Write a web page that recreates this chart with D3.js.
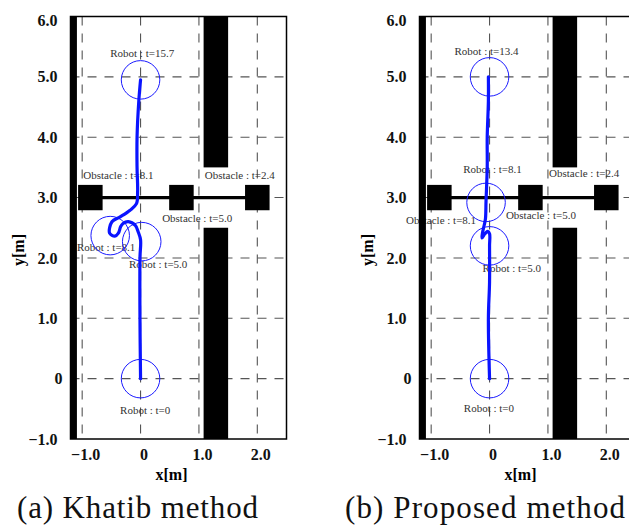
<!DOCTYPE html>
<html>
<head>
  <meta charset="UTF-8">
  <title>Khatib vs proposed method</title>
  <script src="https://d3js.org/d3.v7.min.js"></script>
  <style>
    body { margin: 0; background: #fff; }
    svg { display: block; }
  </style>
</head>
<body>
<svg width="629" height="530"></svg>
<script>

// axis ticks
const xTicks = [-1, 0, 1, 2];
const yTicks = [-1, 0, 1, 2, 3, 4, 5, 6];
const gridX = [-1, 0, 1, 2];
const gridY = [0, 1, 2, 3, 4, 5];

// environment: walls as [x0, x1, y0, y1], obstacles centres on the y=3 rail
const walls = [[-1.2, -1.09, -1, 6], [1.08, 1.5, 3.5, 6], [1.08, 1.5, -1, 2.5]];
const obstacleX = [-0.86, 0.7, 2.0];
const obstacleY = 3.0;
const obstacleSize = 0.42;
const robotRadius = 0.33;

// (a) Khatib method
const khatibPath = [
  [0, 0], [-0.01, 1.0], [-0.01, 2.0], [0, 2.3], [-0.04, 2.43], [-0.09, 2.54],
  [-0.21, 2.6], [-0.3, 2.57], [-0.34, 2.52], [-0.38, 2.41], [-0.44, 2.36],
  [-0.53, 2.41], [-0.49, 2.6], [-0.35, 2.68], [-0.18, 2.79], [-0.07, 2.9],
  [-0.05, 3.1], [-0.06, 3.5], [-0.06, 4.0], [-0.03, 4.6], [0, 4.95]
];
const khatibRobots = [[0, 0], [0.02, 2.27], [-0.52, 2.37], [0, 4.95]];
const khatibNotes = [
  ["Robot : t=15.7", -0.52, 5.33],
  ["Obstacle : t=8.1", -0.98, 3.31],
  ["Obstacle : t=2.4", 1.1, 3.31],
  ["Obstacle : t=5.0", 0.37, 2.59],
  ["Robot : t=8.1", -1.09, 2.11],
  ["Robot : t=5.0", -0.2, 1.83],
  ["Robot : t=0", -0.35, -0.59]
];

// (b) Proposed method
const proposedPath = [
  [0, 0], [-0.02, 1.0], [0, 1.6], [0, 2.2], [0, 2.4], [-0.03, 2.44],
  [-0.08, 2.4], [-0.13, 2.33], [-0.12, 2.42], [-0.09, 2.55], [-0.07, 2.65],
  [-0.06, 2.95], [-0.04, 3.5], [-0.04, 4.0], [-0.02, 4.6], [-0.02, 5.0]
];
const proposedRobots = [[0, 0], [0, 2.2], [-0.06, 2.92], [0, 5.0]];
const proposedNotes = [
  ["Robot : t=13.4", -0.6, 5.37],
  ["Robot : t=8.1", -0.45, 3.4],
  ["Obstacle : t=2.4", 1.02, 3.34],
  ["Obstacle : t=8.1", -1.43, 2.57],
  ["Obstacle : t=5.0", 0.28, 2.64],
  ["Robot : t=5.0", -0.12, 1.76],
  ["Robot : t=0", -0.44, -0.55]
];

const captions = ["(a) Khatib method", "(b) Proposed method"];

const svg = d3.select("svg");
const plotW = 216, plotTop = 16.5, plotBottom = 439;
const serif = "'Liberation Serif', 'Times New Roman', serif";
const fmt = v => v === 0 ? "0" : d3.format(".1f")(v);

function panel(left, path, robots, notes, caption, capX, capW) {
  const x = d3.scaleLinear().domain([-1.2, 2.5]).range([left, left + plotW]);
  const y = d3.scaleLinear().domain([-1, 6]).range([plotBottom, plotTop]);
  const g = svg.append("g");

  // dashed grid
  g.selectAll(".gx").data(gridX).enter().append("line")
    .attr("x1", d => x(d)).attr("x2", d => x(d))
    .attr("y1", y(6)).attr("y2", y(-1))
    .attr("stroke", "#555").attr("stroke-width", 1.1).attr("stroke-dasharray", "9,8");
  g.selectAll(".gy").data(gridY).enter().append("line")
    .attr("x1", x(-1.2)).attr("x2", x(2.5))
    .attr("y1", d => y(d)).attr("y2", d => y(d))
    .attr("stroke", "#555").attr("stroke-width", 1.1).attr("stroke-dasharray", "9,8");

  // annotations
  g.selectAll(".note").data(notes).enter().append("text")
    .attr("x", d => x(d[1])).attr("y", d => y(d[2]))
    .attr("font-family", serif).attr("font-size", "11px").attr("fill", "#333")
    .text(d => d[0]);

  // walls
  g.selectAll(".wall").data(walls).enter().append("rect")
    .attr("x", d => x(d[0])).attr("width", d => x(d[1]) - x(d[0]))
    .attr("y", d => y(d[3])).attr("height", d => y(d[2]) - y(d[3]))
    .attr("fill", "#000");

  // rail + moving obstacles
  g.append("line")
    .attr("x1", x(obstacleX[0])).attr("x2", x(obstacleX[2]))
    .attr("y1", y(obstacleY)).attr("y2", y(obstacleY))
    .attr("stroke", "#000").attr("stroke-width", 3.2);
  g.selectAll(".obs").data(obstacleX).enter().append("rect")
    .attr("x", d => x(d - obstacleSize / 2))
    .attr("width", x(obstacleSize) - x(0))
    .attr("y", y(obstacleY + obstacleSize / 2))
    .attr("height", y(0) - y(obstacleSize))
    .attr("fill", "#000");

  // frame
  g.append("rect")
    .attr("x", x(-1.2)).attr("y", y(6))
    .attr("width", plotW).attr("height", plotBottom - plotTop)
    .attr("fill", "none").attr("stroke", "#000").attr("stroke-width", 1.5);

  // robot footprints
  g.selectAll(".robot").data(robots).enter().append("circle")
    .attr("cx", d => x(d[0])).attr("cy", d => y(d[1]))
    .attr("r", x(robotRadius) - x(0))
    .attr("fill", "none").attr("stroke", "#1a1aff").attr("stroke-width", 1);

  // trajectory
  g.append("path")
    .datum(path)
    .attr("d", d3.line().x(d => x(d[0])).y(d => y(d[1])).curve(d3.curveCatmullRom))
    .attr("fill", "none").attr("stroke", "#0a14ff")
    .attr("stroke-width", 3.2).attr("stroke-linejoin", "round").attr("stroke-linecap", "round");

  // axes
  const ya = g.append("g")
    .attr("transform", `translate(${x(-1.2)},0)`)
    .call(d3.axisLeft(y).tickValues(yTicks).tickSize(0).tickPadding(13).tickFormat(fmt));
  const xa = g.append("g")
    .attr("transform", `translate(0,${plotBottom})`)
    .call(d3.axisBottom(x).tickValues(xTicks).tickSize(0).tickPadding(10).tickFormat(fmt));
  [ya, xa].forEach(a => {
    a.select(".domain").remove();
    a.selectAll("text")
      .attr("font-family", serif).attr("font-size", "16px")
      .attr("font-weight", "bold").attr("fill", "#111");
  });
  ya.selectAll("text")
    .attr("dx", d => d === 0 ? 5 : 0)
    .attr("y", d => d === 6 ? 3.5 : 0);
  xa.selectAll("text").attr("dx", 3);

  // axis titles
  g.append("text")
    .attr("x", left + plotW / 2 - 7).attr("y", 480)
    .attr("text-anchor", "middle")
    .attr("font-family", serif).attr("font-size", "16px").attr("font-weight", "bold")
    .text("x[m]");
  g.append("text")
    .attr("transform", `translate(${left - 52},250) rotate(-90)`)
    .attr("text-anchor", "middle").attr("dy", "0.35em")
    .attr("font-family", serif).attr("font-size", "16px").attr("font-weight", "bold")
    .text("y[m]");

  // caption
  g.append("text")
    .attr("x", capX).attr("y", 518)
    .attr("font-family", serif).attr("font-size", "31px")
    .attr("textLength", capW).attr("lengthAdjust", "spacing")
    .attr("fill", "#111")
    .text(caption);
}

panel(70.5, khatibPath, khatibRobots, khatibNotes, captions[0], 17, 241);
panel(419.5, proposedPath, proposedRobots, proposedNotes, captions[1], 345, 280);

</script>
</body>
</html>
